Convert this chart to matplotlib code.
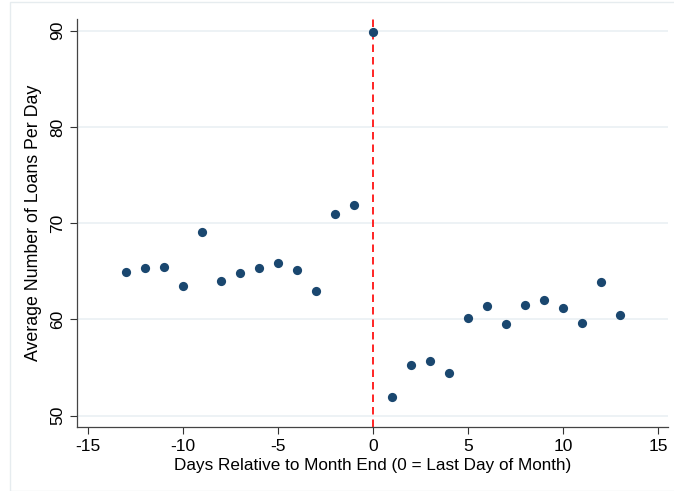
import numpy as np
import matplotlib.pyplot as plt
from matplotlib.patches import Rectangle

plt.rcParams['font.family'] = ['Liberation Sans', 'DejaVu Sans']
plt.rcParams['axes.unicode_minus'] = False

# Data
days = [-13, -12, -11, -10, -9, -8, -7, -6, -5, -4, -3, -2, -1,
        0, 1, 2, 3, 4, 5, 6, 7, 8, 9, 10, 11, 12, 13]
avg_loans = [64.9, 65.3, 65.4, 63.5, 69.1, 64.0, 64.8, 65.3, 65.9, 65.1, 63.0, 70.9, 71.9,
             89.9, 51.9, 55.3, 55.7, 54.4, 60.1, 61.4, 59.5, 61.5, 62.0, 61.2, 59.6, 63.9, 60.5]
x_ticks = [-15, -10, -5, 0, 5, 10, 15]
y_ticks = [50, 60, 70, 80, 90]

fig = plt.figure(figsize=(6.74, 4.91), dpi=100)
ax = fig.add_axes([0.114, 0.130, 0.877, 0.831])

# faint outer frame like the Stata graph region
fig.patches.append(Rectangle((10 / 674, 0.0), 1.0, 1 - 2 / 491, transform=fig.transFigure,
                             fill=False, edgecolor='#e6ecef', linewidth=1.0))

ax.set_axisbelow(True)
ax.grid(axis='y', color='#eaf0f3', linewidth=1.2)
ax.axvline(0, color='#ff0000', linestyle=(0, (4.5, 3)), linewidth=1.2, zorder=2)
ax.scatter(days, avg_loans, s=44, color='#1a476f', zorder=3, linewidths=0)

ax.set_xlim(-15.6, 15.5)
ax.set_ylim(48.8, 91.2)
ax.set_xticks(x_ticks)
ax.set_yticks(y_ticks)
ax.set_yticklabels([str(v) for v in y_ticks], rotation=90, va='center')
ax.tick_params(labelsize=12.5, length=5, width=0.8, color='#333333')

for side in ['top', 'right']:
    ax.spines[side].set_visible(False)
for side in ['left', 'bottom']:
    ax.spines[side].set_color('#444444')
    ax.spines[side].set_linewidth(0.9)

ax.set_xlabel('Days Relative to Month End (0 = Last Day of Month)', fontsize=12.3, labelpad=3)
ax.set_ylabel('Average Number of Loans Per Day', fontsize=12.8, labelpad=6)

plt.savefig('out.png', dpi=100)
